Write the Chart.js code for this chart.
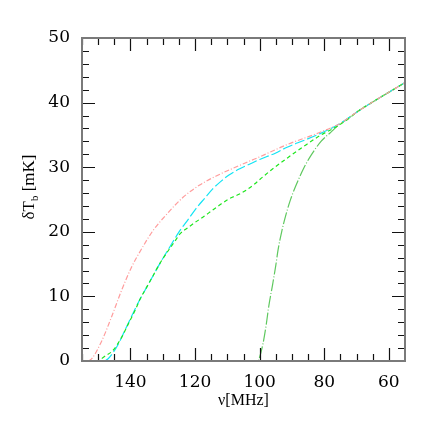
<!DOCTYPE html>
<html>
<head>
<meta charset="utf-8">
<script src="https://cdn.jsdelivr.net/npm/chart.js@4"></script>
<style>
  html, body { margin: 0; padding: 0; background: #fff; }
  #wrap { width: 443px; height: 443px; }
</style>
</head>
<body>
<div id="wrap"><canvas id="chart" width="443" height="443"></canvas></div>
<script>
// frequency (MHz) and brightness temperature (mK)
const pinkNu = [153, 151.9, 148.8, 145.8, 142.7, 139.6, 136.5, 133, 129, 123.8, 118.7, 113.6, 108.4, 103.3, 100, 91.5, 81.3, 75, 70, 65, 60, 55];
const pinkT  = [0, 0.4, 3.2, 6.9, 11.0, 14.6, 17.4, 20.2, 22.6, 25.3, 27.2, 28.6, 29.8, 30.9, 31.6, 33.5, 35.4, 36.8, 38.5, 40.1, 41.6, 43.1];

const cyanNu = [148, 147, 145.5, 144, 142.5, 141, 139, 137, 135, 133, 131, 128, 124.8, 122, 119.7, 117, 114.6, 112, 109.5, 106, 103, 100, 95, 91.5, 86, 81.3, 75, 70, 65, 60, 55];
const cyanT  = [0, 0.3, 1.2, 2.4, 3.9, 5.5, 7.6, 9.6, 11.4, 13.2, 15.0, 17.5, 20.1, 22.0, 23.6, 25.2, 26.6, 27.8, 28.8, 29.8, 30.5, 31.2, 32.2, 33.1, 34.2, 35.2, 36.8, 38.5, 40.1, 41.6, 43.1];

const greenNu = [155, 149.5, 148.8, 145.3, 142.7, 140.6, 138.5, 137, 135, 133, 131, 128, 126, 124.8, 122, 120.7, 117.2, 115, 112.5, 109.5, 106.4, 104, 101.8, 99, 96.6, 91.5, 86.4, 81.3, 76.1, 72.5, 70, 65, 60, 55];
const greenT  = [0, 0, 0.4, 1.7, 3.7, 5.8, 7.9, 9.6, 11.4, 13.2, 15.0, 17.3, 18.7, 19.6, 20.7, 21.2, 22.4, 23.2, 24.1, 25.1, 25.8, 26.5, 27.3, 28.5, 29.5, 31.4, 33.2, 34.9, 36.3, 37.5, 38.5, 40.1, 41.6, 43.1];

const lateNu = [110, 100.6, 100.2, 99, 98, 97.2, 96, 95, 94.3, 93.1, 92, 90.5, 88.9, 86.4, 84, 81, 78, 75.6, 73, 70, 65, 60, 55];
const lateT  = [0, 0, 0.3, 2.6, 5.5, 8.4, 11.8, 14.8, 17.2, 20.2, 22.4, 24.9, 27.0, 29.8, 31.9, 34.0, 35.4, 36.5, 37.4, 38.5, 40.1, 41.6, 43.1];

const xTickValues = [60, 80, 100, 120, 140];
const yTickValues = [0, 10, 20, 30, 40, 50];

const toPoints = (xs, ys) => xs.map((x, i) => ({ x: x, y: ys[i] }));

const serif = "'Liberation Serif', 'DejaVu Serif', serif";
const tickFont = "'DejaVu Serif', serif";

// frame + inward ticks on all four sides, and the axis titles
const framePlugin = {
  id: 'frame',
  afterDraw(chart) {
    const ctx = chart.ctx;
    const a = chart.chartArea;
    const xs = chart.scales.x, ys = chart.scales.y;
    ctx.save();
    ctx.strokeStyle = '#111';
    ctx.lineWidth = 1.2;
    ctx.beginPath();
    for (let v = 60; v <= 155; v += 5) {
      const px = Math.round(xs.getPixelForValue(v)) + 0.5;
      const len = v % 20 === 0 ? 13 : 7;
      ctx.moveTo(px, a.bottom); ctx.lineTo(px, a.bottom - len);
      ctx.moveTo(px, a.top); ctx.lineTo(px, a.top + len);
    }
    for (let v = 0; v <= 50; v += 2) {
      const py = Math.round(ys.getPixelForValue(v)) + 0.5;
      const len = v % 10 === 0 ? 13 : 7;
      ctx.moveTo(a.left, py); ctx.lineTo(a.left + len, py);
      ctx.moveTo(a.right, py); ctx.lineTo(a.right - len, py);
    }
    ctx.stroke();
    ctx.strokeStyle = '#7a7a7a';
    ctx.lineWidth = 2;
    ctx.strokeRect(a.left, a.top, a.right - a.left, a.bottom - a.top);

    ctx.fillStyle = '#000';
    ctx.font = '16px ' + serif;
    ctx.textAlign = 'center';
    ctx.textBaseline = 'middle';
    ctx.fillText('\u03bd[MHz]', (a.left + a.right) / 2, 401);

    ctx.translate(30, 187);
    ctx.rotate(-Math.PI / 2);
    const big = '17px ' + serif, small = '11px ' + serif;
    ctx.font = big;
    const w1 = ctx.measureText('\u03b4T').width;
    const w3 = ctx.measureText(' [mK]').width;
    ctx.font = small;
    const w2 = ctx.measureText('b').width;
    let x0 = -(w1 + w2 + w3) / 2;
    ctx.textAlign = 'left';
    ctx.font = big;
    ctx.fillText('\u03b4T', x0, 0);
    ctx.font = small;
    ctx.fillText('b', x0 + w1, 5);
    ctx.font = big;
    ctx.fillText(' [mK]', x0 + w1 + w2, 0);
    ctx.restore();
  }
};

const lineStyle = (color, dash) => ({
  borderColor: color,
  borderWidth: 1.2,
  borderDash: dash,
  pointRadius: 0,
  fill: false,
  cubicInterpolationMode: 'monotone'
});

new Chart(document.getElementById('chart'), {
  type: 'line',
  data: {
    datasets: [
      Object.assign({ data: toPoints(pinkNu, pinkT) }, lineStyle('#ff9c9c', [5, 2, 1, 2])),
      Object.assign({ data: toPoints(greenNu, greenT) }, lineStyle('#1ee61e', [4, 3])),
      Object.assign({ data: toPoints(cyanNu, cyanT) }, lineStyle('#12e4f4', [10, 3])),
      Object.assign({ data: toPoints(lateNu, lateT) }, lineStyle('#5fc85f', [12, 2, 1, 2]))
    ]
  },
  options: {
    responsive: false,
    animation: false,
    layout: { padding: { left: 0, top: 38, right: 38, bottom: 0 } },
    plugins: { legend: { display: false }, tooltip: { enabled: false } },
    scales: {
      x: {
        type: 'linear',
        reverse: true,
        min: 55,
        max: 155,
        afterBuildTicks: (s) => { s.ticks = xTickValues.map(v => ({ value: v })); },
        afterFit: (s) => { s.height = 82; },
        grid: { display: false, drawTicks: false },
        border: { display: false },
        ticks: { color: '#000', font: { family: tickFont, size: 17 }, padding: 11, maxRotation: 0 }
      },
      y: {
        type: 'linear',
        min: 0,
        max: 50,
        afterBuildTicks: (s) => { s.ticks = yTickValues.map(v => ({ value: v })); },
        afterFit: (s) => { s.width = 82; },
        grid: { display: false, drawTicks: false },
        border: { display: false },
        ticks: { color: '#000', font: { family: tickFont, size: 17 }, padding: 12 }
      }
    }
  },
  plugins: [framePlugin]
});
</script>
</body>
</html>
